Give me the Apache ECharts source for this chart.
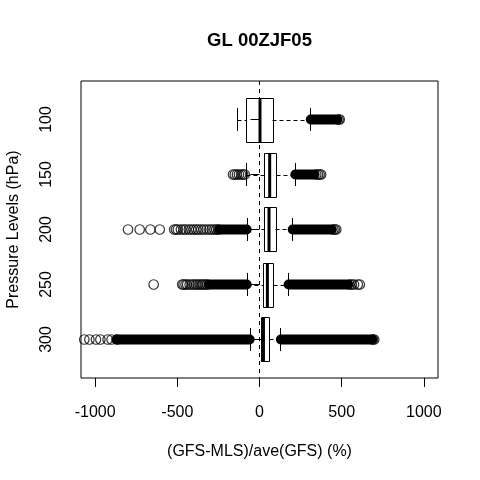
<!DOCTYPE html>
<html><head><meta charset="utf-8">
<script src="https://cdn.jsdelivr.net/npm/echarts@6/dist/echarts.min.js"></script>
<style>html,body{margin:0;padding:0;background:#fff}#c{width:480px;height:480px}</style>
</head><body><div id="c"></div>
<script>
// ---- data ----
const levels = ['100', '150', '200', '250', '300'];
const positions = [1, 2, 3, 4, 5];
const whiskerLow  = [-134, -82, -74, -74, -58];
const q1          = [-84, 27, 27, 21, 11.5];
const median      = [3, 62, 58, 48, 24];
const q3          = [78, 100, 97, 82, 58];
const whiskerHigh = [307, 214, 198, 173, 127];

// outliers that are drawn as individual, distinguishable circles
const outliersLow = [
  [],
  [-161, -150, -137, -125, -112, -100, -90],
  [-800, -729, -664, -607, -519, -508, -497, -478, -462, -448, -430, -415, -400, -385, -372, -355, -340, -322, -305, -290, -275, -262, -250],
  [-644, -470, -462, -450, -440, -425, -410, -398, -385, -375, -362, -350, -340, -328, -318],
  [-1066, -1035, -995, -968, -924, -900, -867]
];
const outliersHigh = [
  [481, 488],
  [345, 356, 366, 375],
  [449, 458, 467],
  [549, 562, 575, 598, 610],
  [690, 698]
];
// ranges so densely packed with outlier circles that they merge into a solid band
const denseLow  = [null, null, [-245, -78], [-310, -78], [-870, -60]];
const denseHigh = [[312, 474], [218, 335], [202, 440], [177, 540], [130, 686]];

const xTicks = [-1000, -500, 0, 500, 1000];
const FONT = '"Liberation Sans", Arial, sans-serif';

// ---- build series data ----
const boxData = positions.map((p, i) => [p, whiskerLow[i], q1[i], median[i], q3[i], whiskerHigh[i]]);
const bandData = [];
positions.forEach((p, i) => {
  if (denseLow[i]) bandData.push([p, denseLow[i][0], denseLow[i][1]]);
  if (denseHigh[i]) bandData.push([p, denseHigh[i][0], denseHigh[i][1]]);
});
const pointData = [];
positions.forEach((p, i) => {
  outliersLow[i].forEach(v => pointData.push([v, p]));
  outliersHigh[i].forEach(v => pointData.push([v, p]));
});

const chart = echarts.init(document.getElementById('c'), null, {renderer: 'canvas'});
const px = v => Math.round(v) + 0.5;

chart.setOption({
  animation: false,
  backgroundColor: '#fff',
  graphic: [{
    type: 'text', x: 259.5, y: 41,
    style: {text: 'GL 00ZJF05', font: 'bold 18.5px ' + FONT, textAlign: 'center', textVerticalAlign: 'middle', fill: '#000'}
  }],
  grid: {left: 81, top: 81, width: 357, height: 297, show: true, borderColor: '#000', borderWidth: 1,
    backgroundColor: 'transparent', containLabel: false, outerBoundsMode: 'none'},
  xAxis: {
    type: 'value', min: -1086, max: 1086,
    axisLine: {show: false},
    axisTick: {show: true, length: 9, customValues: xTicks, lineStyle: {color: '#000', width: 1}},
    axisLabel: {customValues: xTicks, formatter: v => String(v), color: '#000', fontSize: 16, fontFamily: FONT, margin: 27},
    splitLine: {show: false},
    name: '(GFS-MLS)/ave(GFS) (%)', nameLocation: 'middle', nameGap: 66,
    nameTextStyle: {color: '#000', fontSize: 16, fontFamily: FONT}
  },
  yAxis: {
    type: 'value', inverse: true, min: 0.3, max: 5.7,
    axisLine: {show: false},
    axisTick: {show: true, length: 9, customValues: positions, lineStyle: {color: '#000', width: 1}},
    axisLabel: {customValues: positions, formatter: v => levels[Math.round(v) - 1], rotate: 90,
      color: '#000', fontSize: 16, fontFamily: FONT, margin: 26},
    splitLine: {show: false},
    name: 'Pressure Levels (hPa)', nameLocation: 'middle', nameGap: 59, nameRotate: 90,
    nameTextStyle: {color: '#000', fontSize: 16, fontFamily: FONT}
  },
  series: [
    {
      type: 'custom', z: 2, silent: true,
      data: bandData,
      renderItem: (params, api) => {
        const p = api.value(0);
        const a = api.coord([api.value(1), p]);
        const b = api.coord([api.value(2), p]);
        return {type: 'line', shape: {x1: a[0], y1: a[1], x2: b[0], y2: b[1]},
          style: {stroke: '#000', lineWidth: 10, lineCap: 'round'}};
      }
    },
    {
      type: 'scatter', z: 3, silent: true,
      data: pointData, symbol: 'circle', symbolSize: 9.5,
      itemStyle: {color: 'rgba(0,0,0,0)', borderColor: '#000', borderWidth: 1.2},
      emphasis: {disabled: true}
    },
    {
      type: 'custom', z: 4, silent: true,
      data: boxData,
      renderItem: (params, api) => {
        const p = api.value(0);
        const lo = api.coord([api.value(1), p]);
        const a = api.coord([api.value(2), p]);
        const m = api.coord([api.value(3), p]);
        const b = api.coord([api.value(4), p]);
        const hi = api.coord([api.value(5), p]);
        const half = Math.abs(api.size([0, 0.4])[1]);
        const cap = Math.abs(api.size([0, 0.21])[1]);
        const y = px(a[1]);
        const st = {stroke: '#000', lineWidth: 1, fill: null};
        const dash = {stroke: '#000', lineWidth: 1, lineDash: [4, 3]};
        return {type: 'group', children: [
          {type: 'line', shape: {x1: px(lo[0]), y1: y, x2: px(a[0]), y2: y}, style: dash},
          {type: 'line', shape: {x1: px(b[0]), y1: y, x2: px(hi[0]), y2: y}, style: dash},
          {type: 'line', shape: {x1: px(lo[0]), y1: Math.round(a[1] - cap), x2: px(lo[0]), y2: Math.round(a[1] + cap)}, style: st},
          {type: 'line', shape: {x1: px(hi[0]), y1: Math.round(a[1] - cap), x2: px(hi[0]), y2: Math.round(a[1] + cap)}, style: st},
          {type: 'rect', shape: {x: px(a[0]), y: px(a[1] - half), width: Math.round(b[0] - a[0]), height: Math.round(2 * half)}, style: st},
          {type: 'line', shape: {x1: m[0], y1: px(a[1] - half), x2: m[0], y2: px(a[1] + half)}, style: {stroke: '#000', lineWidth: 3}}
        ]};
      }
    },
    {
      type: 'line', z: 5, silent: true, symbol: 'none',
      data: [[0, 0.3], [0, 5.7]],
      lineStyle: {color: '#000', width: 1, type: [4, 4]}
    }
  ]
});
</script></body></html>
